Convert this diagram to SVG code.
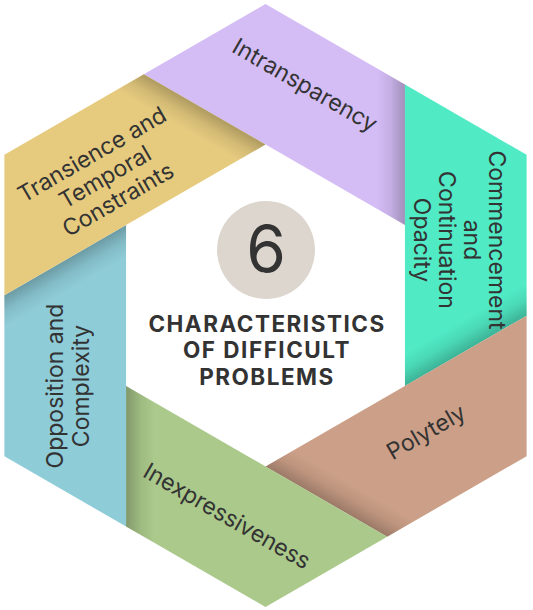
<svg xmlns="http://www.w3.org/2000/svg" xmlns:xlink="http://www.w3.org/1999/xlink" width="533" height="610" viewBox="0 0 533 610">
<style>
.lbl{font-family:Inter,"Noto Sans",sans-serif;font-size:23px;fill:#333;text-anchor:middle}
.title{font-family:Inter,"Noto Sans",sans-serif;font-size:22.5px;font-weight:700;fill:#333;text-anchor:middle;letter-spacing:1.5px}
.num{font-family:Inter,"Noto Sans",sans-serif;font-size:64px;fill:#333;text-anchor:middle}
</style>
<defs>
<polygon id="band" points="-121.68,-231.25 0,-301.5 139.43,-221 139.43,-80.5"/>
<linearGradient id="shg" gradientUnits="userSpaceOnUse" x1="139.43" y1="0" x2="111.43" y2="0">
<stop offset="0" stop-color="#000" stop-opacity="0.24"/>
<stop offset="0.5" stop-color="#000" stop-opacity="0.08"/>
<stop offset="1" stop-color="#000" stop-opacity="0"/>
</linearGradient>
<polygon id="shadow" points="139.43,-221 139.43,-80.5 111.43,-96.67 111.43,-237.17" fill="url(#shg)"/>
</defs>
<rect width="533" height="610" fill="#fff"/>
<g id="connectors"/>
<g id="intransparency">
<g transform="translate(265.5 305.5) rotate(0)"><use xlink:href="#band" fill="#D4BCF5"/><use xlink:href="#shadow"/></g>
<text class="lbl" transform="translate(305 85) rotate(30)" y="8">Intransparency</text>
</g>
<g id="commencement">
<g transform="translate(265.5 305.5) rotate(60)"><use xlink:href="#band" fill="#50EAC5"/><use xlink:href="#shadow"/></g>
<text class="lbl" transform="translate(459 240) rotate(90)"><tspan x="0" y="-29.5">Commencement</tspan><tspan x="0" y="-4.5">and</tspan><tspan x="0" y="20.5">Continuation</tspan><tspan x="0" y="45.5">Opacity</tspan></text>
</g>
<g id="polytely">
<g transform="translate(265.5 305.5) rotate(120)"><use xlink:href="#band" fill="#CCA088"/><use xlink:href="#shadow"/></g>
<text class="lbl" transform="translate(426 432) rotate(-30)" y="8">Polytely</text>
</g>
<g id="inexpressiveness">
<g transform="translate(265.5 305.5) rotate(180)"><use xlink:href="#band" fill="#AAC98B"/><use xlink:href="#shadow"/></g>
<text class="lbl" transform="translate(227 516) rotate(30)" y="8">Inexpressiveness</text>
</g>
<g id="opposition">
<g transform="translate(265.5 305.5) rotate(240)"><use xlink:href="#band" fill="#8ECCD8"/><use xlink:href="#shadow"/></g>
<text class="lbl" transform="translate(68 386) rotate(-90)"><tspan x="0" y="-5">Opposition and</tspan><tspan x="0" y="21">Complexity</tspan></text>
</g>
<g id="transience">
<g transform="translate(265.5 305.5) rotate(300)"><use xlink:href="#band" fill="#E6CB7F"/><use xlink:href="#shadow"/></g>
<text class="lbl" transform="translate(105 177) rotate(-30)"><tspan x="0" y="-18">Transience and</tspan><tspan x="0" y="8">Temporal</tspan><tspan x="0" y="34">Constraints</tspan></text>
</g>
<g id="center">
<circle cx="266" cy="250" r="49" fill="#DDD6CE"/>
<text class="num" x="266" y="272">6</text>
<text class="title" x="267" y="332">CHARACTERISTICS</text>
<text class="title" x="267" y="358">OF DIFFICULT</text>
<text class="title" x="267" y="385">PROBLEMS</text>
</g>
</svg>
